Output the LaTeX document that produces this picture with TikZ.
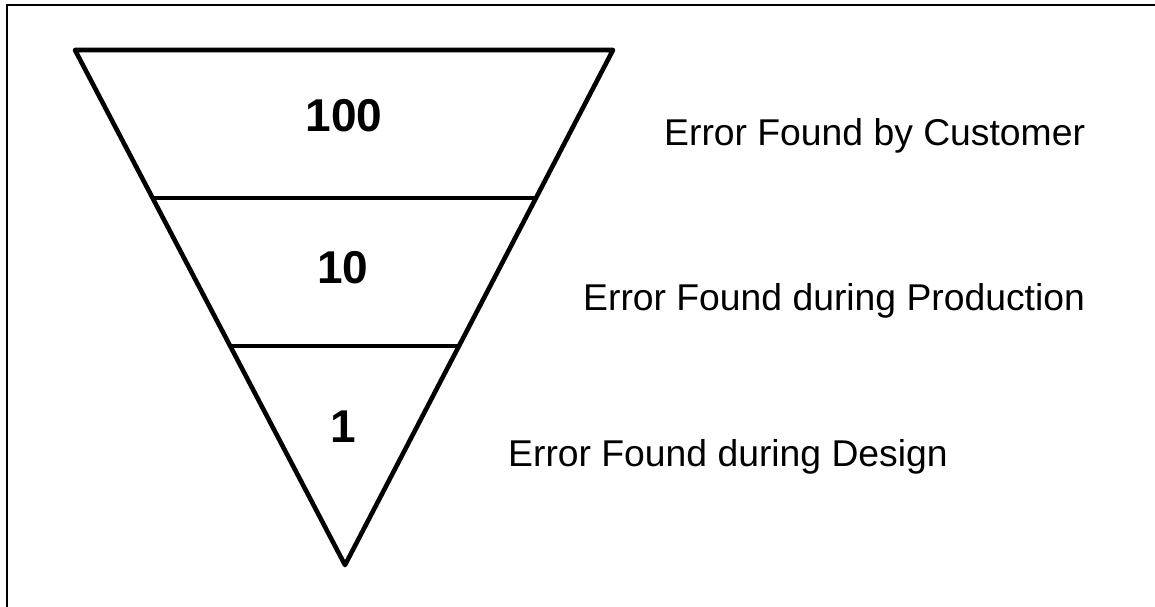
\documentclass[tikz,border=0pt]{standalone}
\usepackage{fontspec}
\setmainfont{Liberation Sans}
\usetikzlibrary{calc}

\begin{document}
\begin{tikzpicture}[x=1pt,y=-1pt,
  e/.style={draw=black,line width=4.6pt,line join=round},
  num/.style={font=\fontsize{46}{50}\selectfont\bfseries,inner sep=0pt},
  lab/.style={font=\fontsize{37.3}{40}\selectfont,inner sep=0pt,anchor=base west}]
  \useasboundingbox (0,0) rectangle (1155,606);
  \draw[line width=2pt] (7,5) rectangle (1175,630);
  % funnel: top corners, apex, and the two cut levels
  \coordinate (tl) at (75,50); \coordinate (tr) at (613,50); \coordinate (ap) at (345,565);
  \foreach \j/\f in {1/0.2874,2/0.5748} {
    \coordinate (l\j) at ($(tl)!\f!(ap)$); \coordinate (r\j) at ($(tr)!\f!(ap)$); }
  \draw[e] (tl)--(tr)--(ap)--cycle;
  \foreach \j in {1,2} \draw[e] (l\j)--(r\j);
  \node[num] (c100) at (344,116) {100};
  \node[num] (c10) at (343,268) {10};
  \node[num] (c1) at (343,427) {1};
  \node[lab] (cust) at (664,145) {Error Found by Customer};
  \node[lab] (prod) at (583,310) {Error Found during Production};
  \node[lab] (design) at (508,466) {Error Found during Design};
\end{tikzpicture}
\end{document}
